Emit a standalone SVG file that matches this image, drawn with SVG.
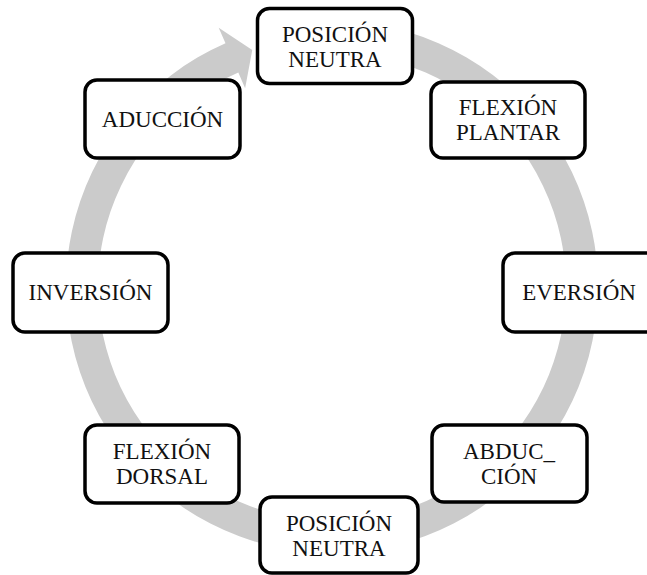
<svg xmlns="http://www.w3.org/2000/svg" width="647" height="575" viewBox="0 0 647 575">
  <style>
    .box { fill: #ffffff; stroke: #000000; stroke-width: 3.5; }
    .lbl { font-family: "Liberation Serif", "Times New Roman", serif; font-size: 23px; fill: #111111; text-anchor: middle; }
    .ring { fill: #cbcbcb; stroke: none; }
  </style>

  <!-- circular clockwise arrow, centre (332,287), band radii 234..266 -->
  <g id="connectors">
    <path class="ring" d="M 378.19 25.04
      A 266 266 0 1 1 225.51 43.25
      L 218.70 27.67
      L 252.26 50.06
      L 245.12 88.15
      L 238.32 72.57
      A 234 234 0 1 0 372.63 56.55 Z"/>
  </g>

  <g id="node-top">
    <rect class="box" x="257.5" y="8.5" width="155" height="75" rx="12"/>
    <text class="lbl" x="335" y="42">POSICIÓN</text>
    <text class="lbl" x="335" y="67">NEUTRA</text>
  </g>

  <g id="node-flexion-plantar">
    <rect class="box" x="431" y="82" width="154" height="76" rx="12"/>
    <text class="lbl" x="508" y="115">FLEXIÓN</text>
    <text class="lbl" x="508" y="140">PLANTAR</text>
  </g>

  <g id="node-eversion">
    <rect class="box" x="503" y="253" width="155" height="79" rx="12"/>
    <text class="lbl" x="579" y="300">EVERSIÓN</text>
  </g>

  <g id="node-abduccion">
    <rect class="box" x="432" y="425" width="155" height="77" rx="12"/>
    <text class="lbl" x="509" y="459">ABDUC_</text>
    <text class="lbl" x="509" y="484">CIÓN</text>
  </g>

  <g id="node-bottom">
    <rect class="box" x="260" y="497" width="158" height="76" rx="12"/>
    <text class="lbl" x="339" y="531">POSICIÓN</text>
    <text class="lbl" x="339" y="556">NEUTRA</text>
  </g>

  <g id="node-flexion-dorsal">
    <rect class="box" x="85" y="425" width="154" height="78" rx="12"/>
    <text class="lbl" x="162" y="459">FLEXIÓN</text>
    <text class="lbl" x="162" y="484">DORSAL</text>
  </g>

  <g id="node-inversion">
    <rect class="box" x="13" y="253" width="155" height="79" rx="12"/>
    <text class="lbl" x="90.5" y="300">INVERSIÓN</text>
  </g>

  <g id="node-aduccion">
    <rect class="box" x="85" y="80" width="155" height="78" rx="12"/>
    <text class="lbl" x="162.5" y="127">ADUCCIÓN</text>
  </g>
</svg>
